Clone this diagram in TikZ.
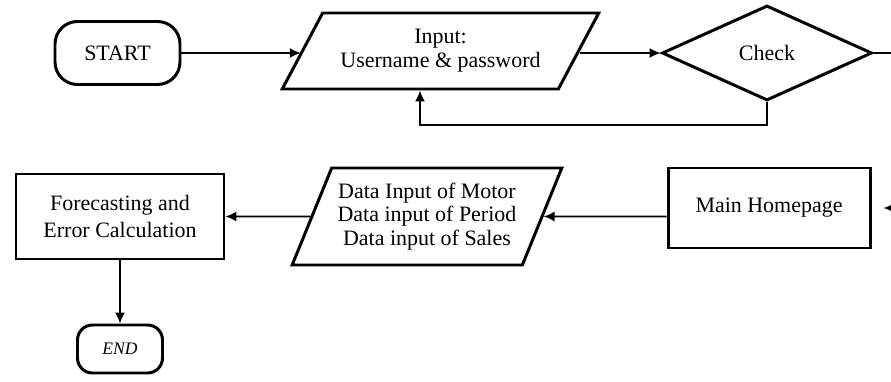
\documentclass[tikz,border=0pt]{standalone}
\usepackage{fontspec}
\setmainfont{Liberation Serif}
\usetikzlibrary{shapes.geometric, arrows.meta}

\tikzset{
    term/.style={draw, line width=1.7pt, rounded corners=0.45cm, minimum width=2.5cm, minimum height=1.26cm, font=\fontsize{12.5}{13}\selectfont},
    io/.style={draw, line width=1.7pt, trapezium, trapezium stretches=true, align=center, inner sep=0pt, font=\fontsize{12.5}{13.5}\selectfont},
    proc/.style={draw, line width=1.7pt, rectangle, align=center, font=\fontsize{12.5}{15.5}\selectfont},
    decide/.style={draw, line width=1.7pt, diamond, inner sep=0pt, font=\fontsize{12.5}{13}\selectfont},
    link/.style={line width=0.9pt, -{Latex[length=2.2mm, width=2mm]}},
}

\begin{document}
\begin{tikzpicture}
    \useasboundingbox (0,0) rectangle (17.82,7.62);

    % Login row
    \node[term] (start) at (2.35,6.56) {START};
    \node[io, trapezium left angle=51.3, trapezium right angle=128.7, minimum width=6.34cm, minimum height=1.52cm] (login) at (8.81,6.6) {Input:\\Username \& password};
    \node[decide, minimum width=4.2cm, minimum height=1.9cm] (check) at (15.34,6.56) {Check};

    % Menu row
    \node[proc, minimum width=4.04cm, minimum height=1.6cm] (main) at (15.38,3.46) {Main Homepage};
    \node[io, trapezium left angle=61.3, trapezium right angle=118.7, minimum width=5.4cm, minimum height=1.94cm] (data) at (8.54,3.29) {Data Input of Motor\\Data input of Period\\Data input of Sales};
    \node[proc, minimum width=4.16cm, minimum height=1.7cm] (forecast) at (2.4,3.29) {Forecasting and\\Error Calculation};
    \node[term, rounded corners=0.3cm, minimum width=1.7cm, minimum height=0.96cm, font=\fontsize{10}{12}\selectfont\itshape] (end) at (2.4,0.64) {END};

    % Connectors
    \coordinate (back) at (8.4,5.12);
    \coordinate (out) at (18.3,6.56);
    \coordinate (in) at (18.3,3.46);

    \draw[link] (start) -- (start -| login.west);
    \draw[link] (login.east |- check) -- (check.west);
    \draw[link] (check.south) |- (back) -- (back |- login.south);
    \draw[link, shorten >=0.24cm] (check.east) -- (out) -- (in) -- (main.east);
    \draw[link] (main.west |- data) -- (data.east);
    \draw[link] (data) -- (forecast);
    \draw[link] (forecast) -- (end);
\end{tikzpicture}
\end{document}
